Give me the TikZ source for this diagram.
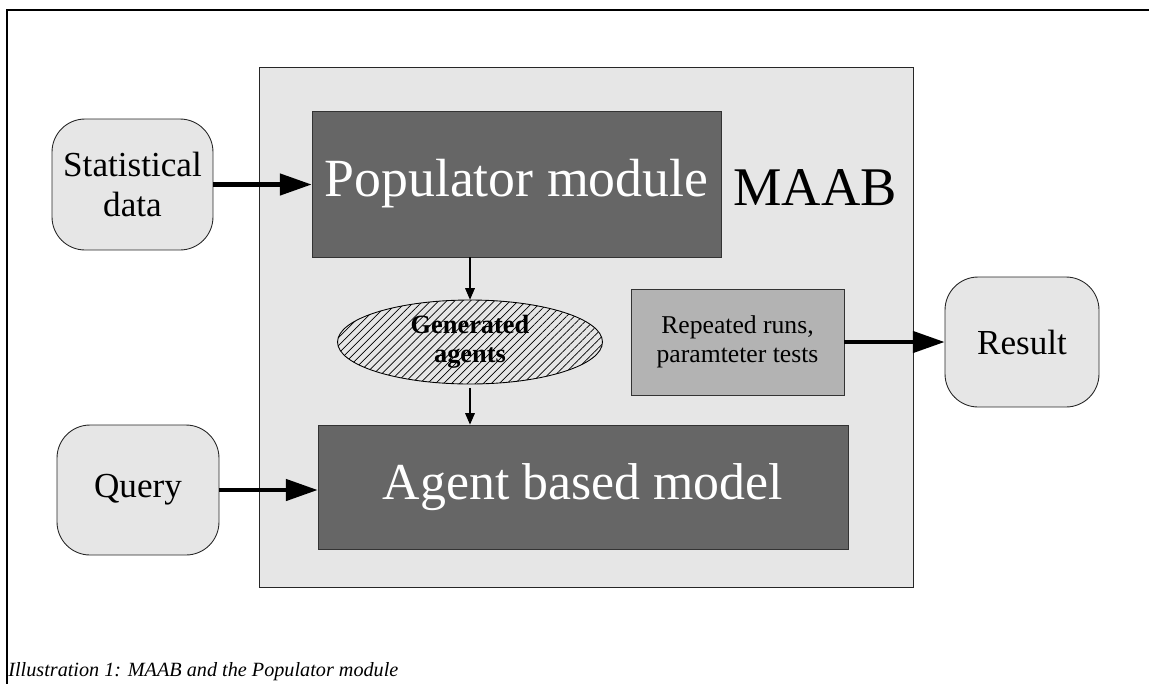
\documentclass[tikz,border=0pt]{standalone}
\usepackage{fontspec}
\setmainfont{Liberation Serif}
\usetikzlibrary{arrows.meta, shapes.geometric, patterns.meta}

\definecolor{boxlight}{HTML}{E6E6E6}
\definecolor{boxdark}{HTML}{666666}
\definecolor{boxmid}{HTML}{B3B3B3}

\begin{document}
\begin{tikzpicture}[x=0.02cm, y=-0.02cm,
        io/.style={draw=black!85, fill=boxlight, line width=0.5pt, rounded corners=0.66cm, align=center, font=\fontsize{20}{22.7}\selectfont},
        module/.style={draw=black!80, fill=boxdark, line width=0.5pt, text=white},
        bigarrow/.style={-{Triangle[length=18pt, width=12pt]}, line width=2.3pt},
        smallarrow/.style={-{Triangle[length=6.5pt, width=5.5pt]}, line width=0.6pt}]
        \useasboundingbox (0,0) rectangle (1149,684);
        \draw[line width=0.8pt] (1149,10) -- (7,10) -- (7,684);

        % the MAAB frame and what sits in it
        \node[draw=black!85, fill=boxlight, line width=0.5pt, minimum width=13.08cm, minimum height=10.4cm] (maab) at (586,327) {};
        \node[module, minimum width=8.18cm, minimum height=2.92cm, font=\fontsize{30.6}{34}\selectfont] (pop) at (516.5,184) {Populator module};
        \node[font=\fontsize{31}{34}\selectfont] (maablabel) at (815,188) {MAAB};
        \node[module, minimum width=10.6cm, minimum height=2.48cm, font=\fontsize{29.5}{33}\selectfont] (abm) at (583,487) {Agent based model};
        \node[draw, ellipse, inner sep=0pt, minimum width=5.3cm, minimum height=1.68cm, line width=0.5pt,
            pattern={Lines[angle=45, distance=3.2pt, line width=0.4pt]}, align=center,
            font=\bfseries\fontsize{15}{16.5}\selectfont] (gen) at (470,342) {Generated\\agents};
        \node[draw=black!80, fill=boxmid, line width=0.5pt, minimum width=4.26cm, minimum height=2.12cm, align=center,
            font=\fontsize{14.6}{16.8}\selectfont] (runs) at (737.5,342) {Repeated runs,\\paramteter tests};

        % inputs and output
        \node[io, minimum width=3.22cm, minimum height=2.62cm] (stat) at (132.5,184.5) {Statistical\\data};
        \node[io, minimum width=3.24cm, minimum height=2.6cm] (query) at (138,490) {Query};
        \node[io, minimum width=3.08cm, minimum height=2.6cm] (result) at (1022,342) {Result};

        \draw[bigarrow] (stat.east) -- (stat.east -| pop.west);
        \draw[bigarrow] (query.east) -- (query.east -| abm.west);
        \draw[bigarrow] (runs.east) -- (result.west);
        \draw[smallarrow] (pop.south -| gen.north) -- (gen.north);
        \draw[smallarrow] ([yshift=-2pt]gen.south) -- (gen.south |- abm.north);

        \node[anchor=base west, font=\itshape\fontsize{11.5}{13}\selectfont, inner sep=0pt] (caption) at (8,676) {Illustration 1: MAAB and the Populator module};
    \end{tikzpicture}
\end{document}
